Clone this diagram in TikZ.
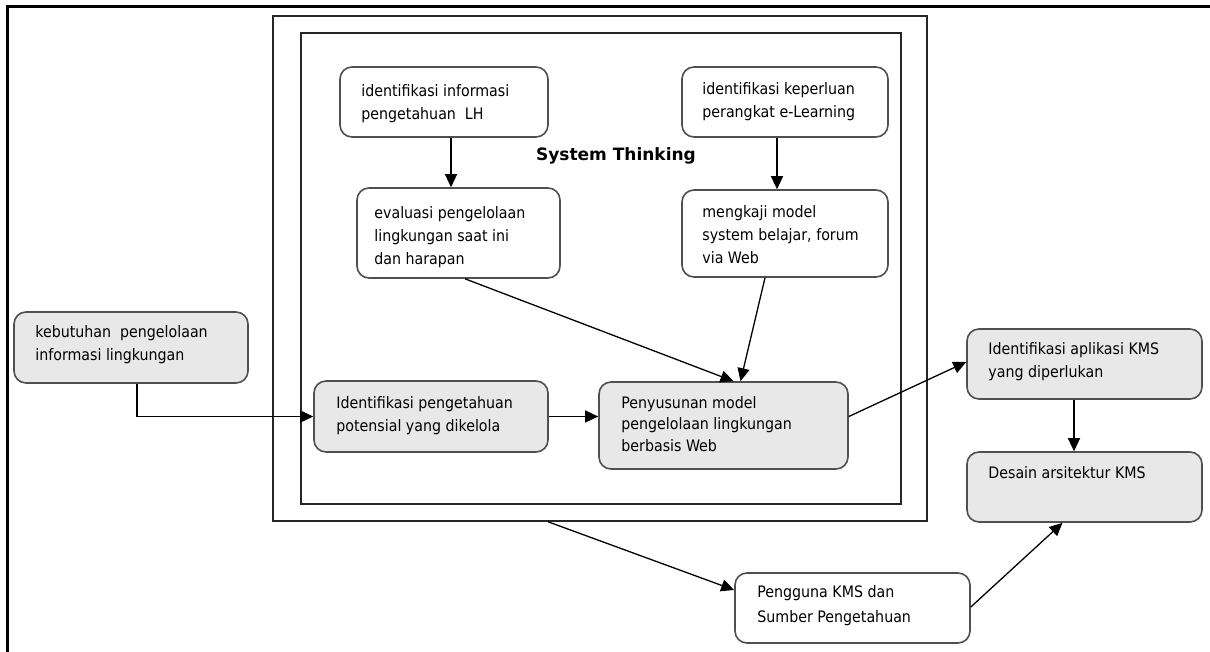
\documentclass[tikz,border=0pt]{standalone}
\usepackage{fontspec}
\setmainfont{DejaVu Sans}
\newfontfamily\condfont{DejaVu Sans Condensed}
\usetikzlibrary{arrows.meta}
\definecolor{boxgray}{HTML}{E8E8E8}
\definecolor{edgegray}{HTML}{505050}
\begin{document}
\begin{tikzpicture}[x=1pt,y=-1pt,
 box/.style={draw=edgegray, line width=1.6pt, rounded corners=12pt, fill=white, inner sep=0pt},
 graybox/.style={box, fill=boxgray},
 frame/.style={draw=black!85, line width=1.5pt, inner sep=0pt},
 txt/.style={anchor=north west, align=left, inner sep=0pt, font=\condfont\fontsize{15.8}{23}\selectfont},
 arr/.style={-{Triangle[length=13pt,width=12pt]}, line width=1.3pt, black}]
\useasboundingbox (0,0) rectangle (1210,651);
\draw[line width=3pt] (7,653) -- (7,6) -- (1212,6);

\node[frame, minimum width=654pt, minimum height=505pt] (outer) at (600,268.5) {};
\node[frame, minimum width=600pt, minimum height=471pt] (inner) at (601,268.5) {};
\node (title) [font=\bfseries\fontsize{17}{20}\selectfont] at (616,156) {System Thinking};

\node[box, minimum width=208pt, minimum height=70pt] (b1) at (444,102) {};
\node[txt] (t1) at ([shift={(22pt,-18pt)}]b1.north west) {identifikasi informasi\\pengetahuan\ \ LH};

\node[box, minimum width=203pt, minimum height=90pt] (b2) at (458.5,233) {};
\node[txt] (t2) at ([shift={(18pt,-19pt)}]b2.north west) {evaluasi pengelolaan\\lingkungan saat ini\\dan harapan};

\node[box, minimum width=206pt, minimum height=70pt] (b3) at (785,102) {};
\node[txt] (t3) at ([shift={(21pt,-16pt)}]b3.north west) {identifikasi keperluan\\perangkat e-Learning};

\node[box, minimum width=206pt, minimum height=87pt] (b4) at (785,233.5) {};
\node[txt] (t4) at ([shift={(21pt,-16pt)}]b4.north west) {mengkaji model\\system belajar, forum\\via Web};

\node[graybox, minimum width=234pt, minimum height=71pt] (b5) at (131,347.5) {};
\node[txt] (t5) at ([shift={(22pt,-14pt)}]b5.north west) {kebutuhan\ \ pengelolaan\\informasi lingkungan};

\node[graybox, minimum width=234pt, minimum height=71pt] (b6) at (431,416.5) {};
\node[txt] (t6) at ([shift={(23pt,-16pt)}]b6.north west) {Identifikasi pengetahuan\\potensial yang dikelola};

\node[graybox, minimum width=249pt, minimum height=87pt] (b7) at (723.5,425.5) {};
\node[txt, font=\condfont\fontsize{15.8}{21.5}\selectfont] (t7) at ([shift={(23pt,-15pt)}]b7.north west) {Penyusunan model\\pengelolaan lingkungan\\berbasis Web};

\node[graybox, minimum width=235pt, minimum height=70pt] (b8) at (1084.5,364) {};
\node[txt] (t8) at ([shift={(22pt,-14pt)}]b8.north west) {Identifikasi aplikasi KMS\\yang diperlukan};

\node[graybox, minimum width=235pt, minimum height=70pt] (b9) at (1084.5,487) {};
\node[txt] (t9) at ([shift={(22pt,-15pt)}]b9.north west) {Desain arsitektur KMS};

\node[box, minimum width=235pt, minimum height=70pt] (b10) at (852.5,608) {};
\node[txt, font=\condfont\fontsize{15.8}{25}\selectfont] (t10) at ([shift={(23pt,-13pt)}]b10.north west) {Pengguna KMS dan\\Sumber Pengetahuan};

\draw[arr] ([xshift=7pt]b1.south) -- ([xshift=-7.5pt]b2.north);
\draw[arr] ([xshift=-8pt]b3.south) -- ([xshift=-8pt]b4.north);
\draw[arr] ([xshift=6.5pt]b2.south) -- ([xshift=10pt]b7.north);
\draw[arr] ([xshift=-20pt]b4.south) -- ([xshift=17pt]b7.north);
\draw[arr] ([xshift=6pt]b5.south) |- (b6.west);
\draw[arr] (b6.east) -- (b6.east -| b7.west);
\draw[arr] ([yshift=9pt]b7.east) -- ([yshift=2pt]b8.west);
\draw[arr] ([xshift=-10.5pt]b8.south) -- ([xshift=-10.5pt]b9.north);
\draw[arr] ([xshift=-52pt]outer.south) -- ([yshift=18pt]b10.west);
\draw[arr] ([yshift=1pt]b10.east) -- ([xshift=-22pt]b9.south);
\end{tikzpicture}
\end{document}
